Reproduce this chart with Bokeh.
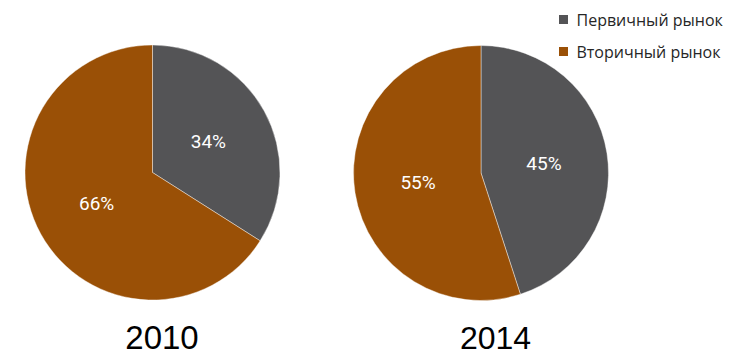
import math
from bokeh.plotting import figure
from bokeh.models import Range1d, ColumnDataSource
from bokeh.core.properties import value
from bokeh.embed import file_html
from bokeh.resources import INLINE

# ---- data ----
categories = ["Первичный рынок", "Вторичный рынок"]
years = ["2010", "2014"]
shares_2010 = [34, 66]
shares_2014 = [45, 55]
colors = ["#545456", "#9A5006"]

W, H = 734, 355
p = figure(width=W, height=H, output_backend="svg", toolbar_location=None,
           x_range=Range1d(0, W), y_range=Range1d(0, H), min_border=0)
p.axis.visible = False
p.grid.visible = False
p.outline_line_color = None
p.background_fill_color = "white"
p.border_fill_color = "white"

def fy(py):
    return H - py

def fx(px):
    return px

R = 127.5
pies = [
    (shares_2010, fx(152), fy(172), years[0], fx(161.5), 33),
    (shares_2014, fx(480.5), fy(172.5), years[1], fx(495), 32),
]

for shares, cx, cy, year, yx, ysize in pies:
    total = float(sum(shares))
    starts, ends, lx, ly, labels = [], [], [], [], []
    cum = 0.0
    for v in shares:
        a0 = math.pi / 2 - 2 * math.pi * cum / total
        cum += v
        a1 = math.pi / 2 - 2 * math.pi * cum / total
        starts.append(a0)
        ends.append(a1)
        mid = (a0 + a1) / 2
        lx.append(cx + 0.5 * R * math.cos(mid))
        ly.append(cy + 0.5 * R * math.sin(mid))
        labels.append(f"{v}%")
    src = ColumnDataSource(dict(start=starts, end=ends, color=colors))
    p.wedge(x=cx, y=cy, radius=R, start_angle="start", end_angle="end",
            direction="clock", fill_color="color", line_color="white",
            line_width=0.6, line_alpha=0.7, source=src)
    p.text(x=lx, y=ly, text=labels, text_color="white",
           text_font=value("Roboto"), text_font_size="19px",
           text_align="center", text_baseline="middle")
    p.text(x=[yx], y=[fy(337)], text=[year], text_color="#000000",
           text_font=value("Liberation Sans"), text_font_size=f"{ysize}px",
           text_align="center", text_baseline="middle")

# legend
leg_y = [fy(19), fy(51)]
p.rect(x=[fx(563)] * 2, y=leg_y, width=9, height=9, fill_color=colors,
       line_color=None)
p.text(x=[fx(576)] * 2, y=leg_y, text=categories, text_color="#262626",
       text_font=value("Open Sans"), text_font_size="16px",
       text_align="left", text_baseline="middle")

open("out.html", "w").write(file_html(p, INLINE))
